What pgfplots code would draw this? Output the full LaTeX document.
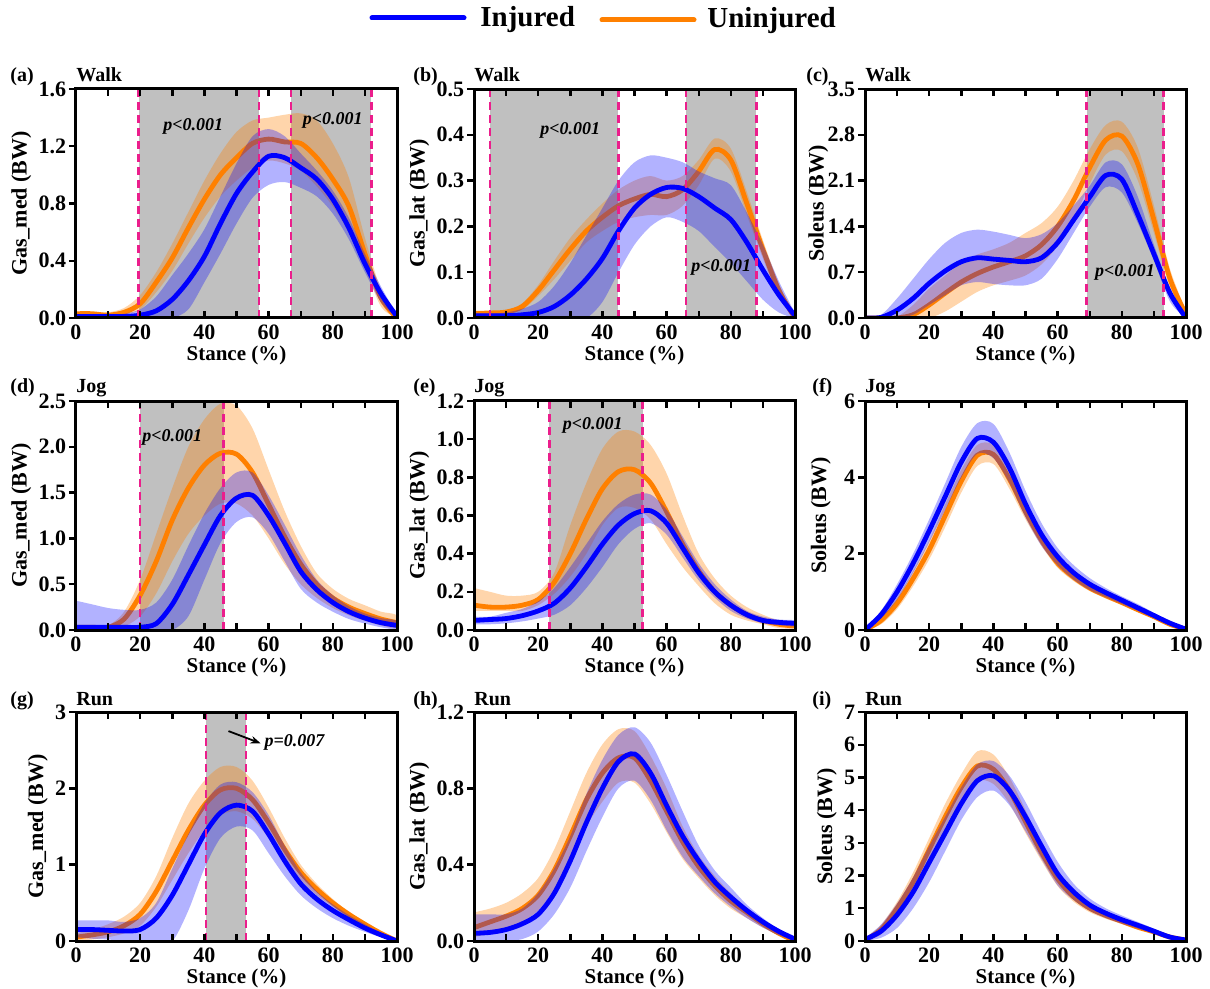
\documentclass[border=0pt]{standalone}
\usepackage{fontspec}
\setmainfont{Liberation Serif}
\usepackage{pgfplots}
\pgfplotsset{compat=1.18}
\usepackage{pgfplotstable}
\usetikzlibrary{arrows.meta}

\definecolor{iblue}{RGB}{0,0,255}
\definecolor{uorange}{RGB}{255,128,0}
\definecolor{sgray}{RGB}{192,192,192}
\definecolor{sigpink}{RGB}{235,30,140}

% mean curves: x, uninjured (om), injured (bm)
\pgfplotstableread{
x om bm
0 0.03 0.01
5 0.03 0.01
10 0.02 0.01
15 0.04 0.01
20 0.10 0.02
25 0.25 0.05
30 0.42 0.13
35 0.63 0.26
40 0.83 0.43
45 1.00 0.66
50 1.12 0.87
55 1.22 1.02
60 1.25 1.13
65 1.23 1.12
70 1.22 1.05
75 1.12 0.97
80 0.97 0.83
85 0.78 0.63
90 0.45 0.38
95 0.14 0.17
100 0.00 0.01
}\tabA
\pgfplotstableread{
x om bm
0 0.010 0.005
5 0.011 0.005
10 0.013 0.005
15 0.025 0.007
20 0.060 0.012
25 0.105 0.025
30 0.150 0.050
35 0.190 0.085
40 0.220 0.130
45 0.245 0.190
50 0.260 0.240
55 0.270 0.270
60 0.265 0.285
65 0.280 0.283
70 0.320 0.265
75 0.368 0.240
80 0.345 0.215
85 0.250 0.165
90 0.150 0.105
95 0.060 0.050
100 0.000 0.005
}\tabB
\pgfplotstableread{
x om bm
0 0 0
5 0 0.01
10 0 0.12
15 0.05 0.30
20 0.20 0.53
25 0.38 0.72
30 0.55 0.86
35 0.68 0.92
40 0.78 0.90
45 0.86 0.88
50 0.95 0.86
55 1.12 0.92
60 1.40 1.15
65 1.80 1.50
70 2.30 1.85
75 2.72 2.18
80 2.78 2.12
85 2.35 1.58
90 1.50 0.98
95 0.60 0.38
100 0.05 0.00
}\tabC
\pgfplotstableread{
x om bm
0 0.03 0.03
5 0.03 0.03
10 0.03 0.03
15 0.12 0.03
20 0.38 0.03
25 0.75 0.07
30 1.20 0.28
35 1.55 0.60
40 1.80 0.93
45 1.93 1.25
50 1.92 1.44
55 1.72 1.47
60 1.37 1.25
65 1.02 0.95
70 0.72 0.64
75 0.50 0.44
80 0.35 0.30
85 0.25 0.20
90 0.18 0.13
95 0.12 0.08
100 0.08 0.05
}\tabD
\pgfplotstableread{
x om bm
0 0.13 0.050
5 0.12 0.055
10 0.12 0.060
15 0.13 0.075
20 0.16 0.100
25 0.25 0.140
30 0.40 0.220
35 0.58 0.330
40 0.74 0.450
45 0.83 0.550
50 0.84 0.610
55 0.77 0.625
60 0.62 0.560
65 0.45 0.430
70 0.31 0.300
75 0.20 0.200
80 0.13 0.130
85 0.08 0.080
90 0.05 0.050
95 0.03 0.040
100 0.02 0.035
}\tabE
\pgfplotstableread{
x om bm
0 0 0
5 0.25 0.40
10 0.70 1.00
15 1.35 1.75
20 2.10 2.60
25 3.00 3.50
30 3.90 4.40
35 4.58 5.02
40 4.60 4.92
45 3.95 4.25
50 3.10 3.30
55 2.35 2.50
60 1.75 1.92
65 1.38 1.50
70 1.10 1.20
75 0.90 0.98
80 0.72 0.78
85 0.53 0.58
90 0.35 0.38
95 0.15 0.18
100 0.02 0.02
}\tabF
\pgfplotstableread{
x om bm
0 0.05 0.15
5 0.08 0.15
10 0.12 0.14
15 0.20 0.13
20 0.35 0.15
25 0.65 0.30
30 1.05 0.60
35 1.45 1.00
40 1.78 1.40
45 1.98 1.68
50 2.00 1.78
55 1.85 1.70
60 1.55 1.40
65 1.20 1.05
70 0.90 0.75
75 0.68 0.55
80 0.50 0.40
85 0.35 0.28
90 0.22 0.17
95 0.10 0.08
100 0.00 0.00
}\tabG
\pgfplotstableread{
x om bm
0 0.07 0.040
5 0.10 0.045
10 0.13 0.060
15 0.17 0.090
20 0.24 0.140
25 0.37 0.250
30 0.55 0.420
35 0.74 0.620
40 0.88 0.800
45 0.96 0.940
50 0.96 0.980
55 0.84 0.880
60 0.68 0.710
65 0.52 0.550
70 0.39 0.420
75 0.29 0.310
80 0.21 0.230
85 0.15 0.160
90 0.09 0.100
95 0.04 0.050
100 0.00 0.010
}\tabH
\pgfplotstableread{
x om bm
0 0.03 0.05
5 0.35 0.30
10 1.00 0.80
15 1.80 1.50
20 2.80 2.40
25 3.80 3.30
30 4.70 4.20
35 5.35 4.90
40 5.25 5.05
45 4.60 4.60
50 3.65 3.80
55 2.70 2.90
60 1.90 2.05
65 1.35 1.50
70 1.00 1.10
75 0.78 0.85
80 0.60 0.65
85 0.42 0.48
90 0.28 0.30
95 0.12 0.12
100 0.03 0.03
}\tabI

% band = upper edge forwards, lower edge backwards
\newcommand{\oband}[1]{\addplot[fill=uorange, fill opacity=0.33, draw=none, smooth] coordinates {#1};}
\newcommand{\bband}[1]{\addplot[fill=iblue, fill opacity=0.3, draw=none, smooth] coordinates {#1};}
\newcommand{\omean}[1]{\addplot[uorange, line width=2.4pt, smooth] table[x=x,y=om]{#1};}
\newcommand{\bmean}[1]{\addplot[iblue, line width=2.4pt, smooth] table[x=x,y=bm]{#1};}
\newcommand{\sig}[3]{\addplot[fill=sgray, draw=none] coordinates {(#1,0) (#1,#3) (#2,#3) (#2,0)};}
\newcommand{\dl}[2]{\addplot[sigpink, line width=1.2pt, dash pattern=on 4pt off 2.5pt] coordinates {(#1,0) (#1,#2)};}
\newcommand{\pv}[3][p<0.001]{\node[font=\bfseries\itshape\fontsize{9}{9}\selectfont] at (axis cs:#2,#3) {#1};}

\pgfplotsset{
  panel/.style={
    scale only axis, width=160.5pt, height=114.5pt,
    anchor=south west,
    xmin=0, xmax=100, ymin=0,
    xtick={0,20,...,100}, minor xtick={10,30,...,90},
    xtick pos=both, ytick pos=left,
    xtick align=inside, ytick align=outside,
    major tick length=3.5pt, minor tick length=3.5pt,
    every tick/.style={black, line width=1.2pt},
    axis line style={line width=1.5pt},
    axis on top,
    /pgf/number format/assume math mode=true,
    tick label style={font=\fontsize{11}{11}\selectfont\bfseries},
    yticklabel style={inner sep=1.2pt},
    xlabel={Stance (\%)},
    xlabel style={font=\fontsize{10.5}{11}\selectfont\bfseries, yshift=4pt},
    ylabel style={font=\fontsize{11}{12}\selectfont\bfseries, yshift=-1pt},
  },
  dec/.style={yticklabel style={/pgf/number format/.cd, fixed, fixed zerofill, precision=1}},
}

\begin{document}
\begin{tikzpicture}
\path[use as bounding box] (0,0) rectangle (605pt,-494.5pt);

% legend
\draw[iblue, line width=2.5pt, line cap=round] (186pt,-9pt) -- (232pt,-9pt);
\node[anchor=base west, inner sep=0pt, font=\fontsize{14.5}{14.5}\selectfont\bfseries] at (240pt,-13.5pt) {Injured};
\draw[uorange, line width=2.5pt, line cap=round] (301pt,-10pt) -- (347pt,-10pt);
\node[anchor=base west, inner sep=0pt, font=\fontsize{14.5}{14.5}\selectfont\bfseries] at (353.5pt,-14pt) {Uninjured};

% panel labels and titles
\begin{scope}[every node/.style={anchor=base west, inner sep=0pt, font=\fontsize{10}{10}\selectfont\bfseries}]
\node at (5pt,-41pt) {(a)};   \node at (38pt,-41pt) {Walk};
\node at (206.5pt,-41pt) {(b)}; \node at (237pt,-41pt) {Walk};
\node at (403pt,-41pt) {(c)}; \node at (432.5pt,-41pt) {Walk};
\node at (5pt,-196.5pt) {(d)};   \node at (38pt,-196.5pt) {Jog};
\node at (206.5pt,-196.5pt) {(e)}; \node at (237pt,-196.5pt) {Jog};
\node at (406pt,-196.5pt) {(f)}; \node at (432.5pt,-196.5pt) {Jog};
\node at (5pt,-352.5pt) {(g)};   \node at (38pt,-352.5pt) {Run};
\node at (206.5pt,-352.5pt) {(h)}; \node at (237pt,-352.5pt) {Run};
\node at (406pt,-352.5pt) {(i)}; \node at (432.5pt,-352.5pt) {Run};
\end{scope}

% (a)
\begin{axis}[panel, dec, at={(38pt,-159pt)}, ymax=1.6, ytick={0,0.4,...,1.6}, ylabel={Gas\_med (BW)}]
\sig{19.5}{57}{1.6}\sig{67}{92}{1.6}
\oband{(0,.04)(5,.04)(10,.04)(15,.07)(20,.16)(25,.32)(30,.52)(35,.74)(40,.96)(45,1.15)(50,1.30)(55,1.38)(60,1.40)(65,1.42)(70,1.43)(75,1.38)(80,1.22)(85,.98)(90,.56)(95,.20)(100,.02)(100,0)(95,.08)(90,.35)(85,.60)(80,.78)(75,.92)(70,1.03)(65,1.08)(60,1.10)(55,1.05)(50,.96)(45,.85)(40,.70)(35,.52)(30,.33)(25,.18)(20,.06)(15,.02)(10,.01)(5,.02)(0,.02)}
\omean{\tabA}
\bband{(0,.02)(5,.02)(10,.02)(15,.03)(20,.06)(25,.15)(30,.30)(35,.45)(40,.62)(45,.85)(50,1.08)(55,1.27)(60,1.32)(65,1.27)(70,1.15)(75,1.03)(80,.89)(85,.70)(90,.45)(95,.22)(100,.02)(100,0)(95,.11)(90,.32)(85,.55)(80,.73)(75,.85)(70,.91)(65,.95)(60,.93)(55,.84)(50,.66)(45,.45)(40,.25)(35,.06)(30,0)(25,0)(20,0)(15,0)(10,0)(5,0)(0,0)}
\bmean{\tabA}
\dl{19.5}{1.6}\dl{57}{1.6}\dl{67}{1.6}\dl{92}{1.6}
\pv{36.5}{1.34}\pv{80}{1.38}
\end{axis}
% (b)
\begin{axis}[panel, dec, at={(237pt,-159pt)}, ymax=0.5, ytick={0,0.1,...,0.5}, ylabel={Gas\_lat (BW)}]
\sig{5}{45}{0.5}\sig{66}{88}{0.5}
\oband{(0,.012)(5,.013)(10,.016)(15,.032)(20,.072)(25,.125)(30,.175)(35,.215)(40,.25)(45,.28)(50,.30)(55,.31)(60,.30)(65,.31)(70,.345)(75,.392)(80,.37)(85,.275)(90,.17)(95,.075)(100,.003)(100,0)(95,.045)(90,.13)(85,.225)(80,.32)(75,.348)(70,.29)(65,.245)(60,.225)(55,.225)(50,.22)(45,.21)(40,.19)(35,.165)(30,.125)(25,.085)(20,.048)(15,.018)(10,.01)(5,.009)(0,.008)}
\omean{\tabB}
\bband{(0,.01)(5,.01)(10,.012)(15,.02)(20,.035)(25,.07)(30,.12)(35,.18)(40,.24)(45,.30)(50,.34)(55,.355)(60,.35)(65,.34)(70,.32)(75,.305)(80,.29)(85,.23)(90,.16)(95,.08)(100,.01)(100,0)(95,.012)(90,.04)(85,.08)(80,.12)(75,.155)(70,.19)(65,.21)(60,.22)(55,.20)(50,.16)(45,.10)(40,.035)(35,0)(30,0)(25,0)(20,0)(15,0)(10,0)(5,0)(0,0)}
\bmean{\tabB}
\dl{5}{0.5}\dl{45}{0.5}\dl{66}{0.5}\dl{88}{0.5}
\pv{30}{0.41}\pv{77}{0.11}
\end{axis}
% (c)
\begin{axis}[panel, dec, at={(432.5pt,-159pt)}, ymax=3.5, ytick={0,0.7,1.4,2.1,2.8,3.5}, ylabel={Soleus (BW)}, ylabel style={yshift=-4pt}]
\sig{69}{93}{3.5}
\oband{(0,0)(5,0)(10,.02)(15,.20)(20,.45)(25,.65)(30,.85)(35,.97)(40,1.05)(45,1.15)(50,1.30)(55,1.45)(60,1.70)(65,2.10)(70,2.58)(75,2.95)(80,3.00)(85,2.60)(90,1.72)(95,.75)(100,.10)(100,.02)(95,.45)(90,1.30)(85,2.10)(80,2.55)(75,2.50)(70,2.05)(65,1.50)(60,1.10)(55,.82)(50,.65)(45,.57)(40,.50)(35,.40)(30,.25)(25,.10)(20,0)(15,0)(10,0)(5,0)(0,0)}
\omean{\tabC}
\bband{(0,0)(5,.05)(10,.30)(15,.60)(20,.90)(25,1.15)(30,1.30)(35,1.35)(40,1.32)(45,1.27)(50,1.22)(55,1.28)(60,1.45)(65,1.72)(70,2.02)(75,2.38)(80,2.35)(85,1.85)(90,1.12)(95,.45)(100,.02)(100,0)(95,.25)(90,.88)(85,1.45)(80,1.92)(75,2.00)(70,1.70)(65,1.30)(60,.90)(55,.60)(50,.50)(45,.50)(40,.52)(35,.55)(30,.50)(25,.35)(20,.20)(15,.05)(10,0)(5,0)(0,0)}
\bmean{\tabC}
\dl{69}{3.5}\dl{93}{3.5}
\pv{81}{0.7}
\end{axis}
% (d)
\begin{axis}[panel, dec, at={(38pt,-315pt)}, ymax=2.5, ytick={0,0.5,...,2.5}, ylabel={Gas\_med (BW)}]
\sig{20}{46}{2.5}
\oband{(0,.05)(5,.05)(10,.05)(15,.20)(20,.55)(25,1.05)(30,1.55)(35,2.00)(40,2.30)(45,2.47)(50,2.45)(55,2.20)(60,1.75)(65,1.30)(70,.92)(75,.62)(80,.45)(85,.34)(90,.27)(95,.20)(100,.16)(100,.02)(95,.05)(90,.10)(85,.16)(80,.24)(75,.35)(70,.50)(65,.72)(60,1.00)(55,1.25)(50,1.38)(45,1.38)(40,1.25)(35,1.05)(30,.75)(25,.40)(20,.15)(15,.04)(10,.01)(5,.01)(0,.01)}
\omean{\tabD}
\bband{(0,.32)(5,.28)(10,.24)(15,.22)(20,.22)(25,.30)(30,.55)(35,.92)(40,1.27)(45,1.55)(50,1.72)(55,1.72)(60,1.47)(65,1.15)(70,.82)(75,.55)(80,.38)(85,.26)(90,.18)(95,.13)(100,.10)(100,.01)(95,.03)(90,.07)(85,.12)(80,.20)(75,.30)(70,.45)(65,.75)(60,1.05)(55,1.23)(50,1.18)(45,.95)(40,.55)(35,.15)(30,0)(25,0)(20,0)(15,0)(10,0)(5,0)(0,0)}
\bmean{\tabD}
\dl{20}{2.5}\dl{46}{2.5}
\pv{30}{2.1}
\end{axis}
% (e)
\begin{axis}[panel, dec, at={(237pt,-315pt)}, ymax=1.2, ytick={0,0.2,...,1.2}, ylabel={Gas\_lat (BW)}]
\sig{23.5}{52.5}{1.2}
\oband{(0,.22)(5,.20)(10,.18)(15,.18)(20,.20)(25,.30)(30,.55)(35,.77)(40,.95)(45,1.04)(50,1.04)(55,.97)(60,.82)(65,.60)(70,.40)(75,.27)(80,.18)(85,.12)(90,.08)(95,.05)(100,.04)(100,.01)(95,.01)(90,.03)(85,.05)(80,.08)(75,.14)(70,.23)(65,.33)(60,.45)(55,.58)(50,.64)(45,.64)(40,.55)(35,.40)(30,.28)(25,.19)(20,.13)(15,.10)(10,.10)(5,.10)(0,.10)}
\omean{\tabE}
\bband{(0,.07)(5,.07)(10,.09)(15,.11)(20,.15)(25,.22)(30,.33)(35,.45)(40,.57)(45,.66)(50,.71)(55,.71)(60,.63)(65,.49)(70,.35)(75,.24)(80,.16)(85,.10)(90,.07)(95,.055)(100,.05)(100,.02)(95,.025)(90,.035)(85,.06)(80,.10)(75,.17)(70,.26)(65,.38)(60,.50)(55,.56)(50,.53)(45,.45)(40,.33)(35,.22)(30,.13)(25,.08)(20,.06)(15,.045)(10,.035)(5,.03)(0,.03)}
\bmean{\tabE}
\dl{23.5}{1.2}\dl{52.5}{1.2}
\pv{37}{1.07}
\end{axis}
% (f)
\begin{axis}[panel, at={(432.5pt,-315pt)}, ymax=6, ytick={0,2,4,6}, ylabel={Soleus (BW)}, ylabel style={yshift=3pt}]
\oband{(0,0)(5,.35)(10,.85)(15,1.55)(20,2.35)(25,3.30)(30,4.20)(35,4.85)(40,4.85)(45,4.20)(50,3.30)(55,2.50)(60,1.87)(65,1.48)(70,1.18)(75,.97)(80,.78)(85,.58)(90,.39)(95,.18)(100,.04)(100,0)(95,.12)(90,.31)(85,.48)(80,.66)(75,.83)(70,1.02)(65,1.28)(60,1.63)(55,2.20)(50,2.90)(45,3.70)(40,4.35)(35,4.30)(30,3.60)(25,2.70)(20,1.85)(15,1.15)(10,.55)(5,.15)(0,0)}
\omean{\tabF}
\bband{(0,0)(5,.50)(10,1.20)(15,2.00)(20,2.90)(25,3.85)(30,4.80)(35,5.42)(40,5.40)(45,4.65)(50,3.65)(55,2.80)(60,2.15)(65,1.70)(70,1.36)(75,1.10)(80,.88)(85,.68)(90,.45)(95,.23)(100,.05)(100,0)(95,.13)(90,.31)(85,.50)(80,.68)(75,.86)(70,1.05)(65,1.32)(60,1.70)(55,2.20)(50,2.95)(45,3.85)(40,4.50)(35,4.62)(30,4.00)(25,3.15)(20,2.30)(15,1.50)(10,.80)(5,.30)(0,0)}
\bmean{\tabF}
\end{axis}
% (g)
\begin{axis}[panel, at={(38pt,-470.5pt)}, ymax=3, ytick={0,1,2,3}, ylabel={Gas\_med (BW)}]
\sig{40.5}{53}{3}
\oband{(0,.10)(5,.15)(10,.22)(15,.32)(20,.50)(25,.85)(30,1.35)(35,1.80)(40,2.10)(45,2.28)(50,2.28)(55,2.10)(60,1.75)(65,1.35)(70,1.00)(75,.75)(80,.55)(85,.38)(90,.25)(95,.12)(100,.02)(100,0)(95,.08)(90,.18)(85,.30)(80,.45)(75,.60)(70,.80)(65,1.05)(60,1.35)(55,1.60)(50,1.70)(45,1.65)(40,1.45)(35,1.15)(30,.80)(25,.45)(20,.20)(15,.10)(10,.05)(5,.02)(0,0)}
\omean{\tabG}
\bband{(0,.27)(5,.27)(10,.27)(15,.25)(20,.30)(25,.50)(30,.95)(35,1.40)(40,1.80)(45,2.05)(50,2.08)(55,1.95)(60,1.65)(65,1.25)(70,.90)(75,.65)(80,.48)(85,.34)(90,.22)(95,.11)(100,.02)(100,0)(95,.05)(90,.12)(85,.20)(80,.30)(75,.43)(70,.60)(65,.85)(60,1.15)(55,1.45)(50,1.50)(45,1.35)(40,.95)(35,.40)(30,0)(25,0)(20,0)(15,0)(10,.02)(5,.03)(0,.05)}
\bmean{\tabG}
\dl{40.5}{3}\dl{53}{3}
\draw[black, line width=0.9pt, -{Stealth[length=5pt]}] (axis cs:47.5,2.75) -- (axis cs:57.5,2.59);
\node[anchor=west, inner sep=1pt, font=\bfseries\itshape\fontsize{9}{9}\selectfont] at (axis cs:58,2.6) {p=0.007};
\end{axis}
% (h)
\begin{axis}[panel, dec, at={(237pt,-470.5pt)}, ymax=1.2, ytick={0,0.4,...,1.2}, ylabel={Gas\_lat (BW)}]
\oband{(0,.15)(5,.17)(10,.20)(15,.25)(20,.33)(25,.48)(30,.68)(35,.88)(40,1.03)(45,1.11)(50,1.10)(55,.97)(60,.80)(65,.60)(70,.45)(75,.34)(80,.25)(85,.17)(90,.11)(95,.05)(100,.01)(100,0)(95,.03)(90,.07)(85,.12)(80,.17)(75,.24)(70,.33)(65,.43)(60,.57)(55,.72)(50,.83)(45,.83)(40,.73)(35,.60)(30,.42)(25,.27)(20,.16)(15,.10)(10,.06)(5,.04)(0,.02)}
\omean{\tabH}
\bband{(0,.14)(5,.14)(10,.14)(15,.17)(20,.25)(25,.38)(30,.55)(35,.77)(40,.95)(45,1.08)(50,1.12)(55,1.04)(60,.87)(65,.68)(70,.50)(75,.37)(80,.28)(85,.19)(90,.12)(95,.06)(100,.02)(100,0)(95,.03)(90,.07)(85,.12)(80,.18)(75,.25)(70,.34)(65,.44)(60,.58)(55,.74)(50,.84)(45,.80)(40,.65)(35,.47)(30,.28)(25,.14)(20,.05)(15,.01)(10,0)(5,0)(0,0)}
\bmean{\tabH}
\end{axis}
% (i)
\begin{axis}[panel, at={(432.5pt,-470.5pt)}, ymax=7, ytick={0,1,...,7}, ylabel={Soleus (BW)}]
\oband{(0,.06)(5,.50)(10,1.20)(15,2.10)(20,3.15)(25,4.20)(30,5.10)(35,5.80)(40,5.70)(45,5.00)(50,4.00)(55,2.95)(60,2.10)(65,1.50)(70,1.12)(75,.88)(80,.68)(85,.48)(90,.32)(95,.15)(100,.05)(100,.01)(95,.09)(90,.24)(85,.36)(80,.52)(75,.68)(70,.88)(65,1.20)(60,1.68)(55,2.45)(50,3.30)(45,4.20)(40,4.80)(35,4.90)(30,4.30)(25,3.40)(20,2.45)(15,1.50)(10,.80)(5,.20)(0,0)}
\omean{\tabI}
\bband{(0,.10)(5,.50)(10,1.15)(15,1.95)(20,2.90)(25,3.80)(30,4.70)(35,5.40)(40,5.50)(45,5.05)(50,4.25)(55,3.30)(60,2.42)(65,1.75)(70,1.30)(75,1.00)(80,.78)(85,.58)(90,.38)(95,.17)(100,.06)(100,0)(95,.07)(90,.22)(85,.38)(80,.53)(75,.70)(70,.92)(65,1.25)(60,1.70)(55,2.50)(50,3.35)(45,4.15)(40,4.60)(35,4.40)(30,3.70)(25,2.75)(20,1.80)(15,1.00)(10,.40)(5,.10)(0,0)}
\bmean{\tabI}
\end{axis}
\end{tikzpicture}
\end{document}
